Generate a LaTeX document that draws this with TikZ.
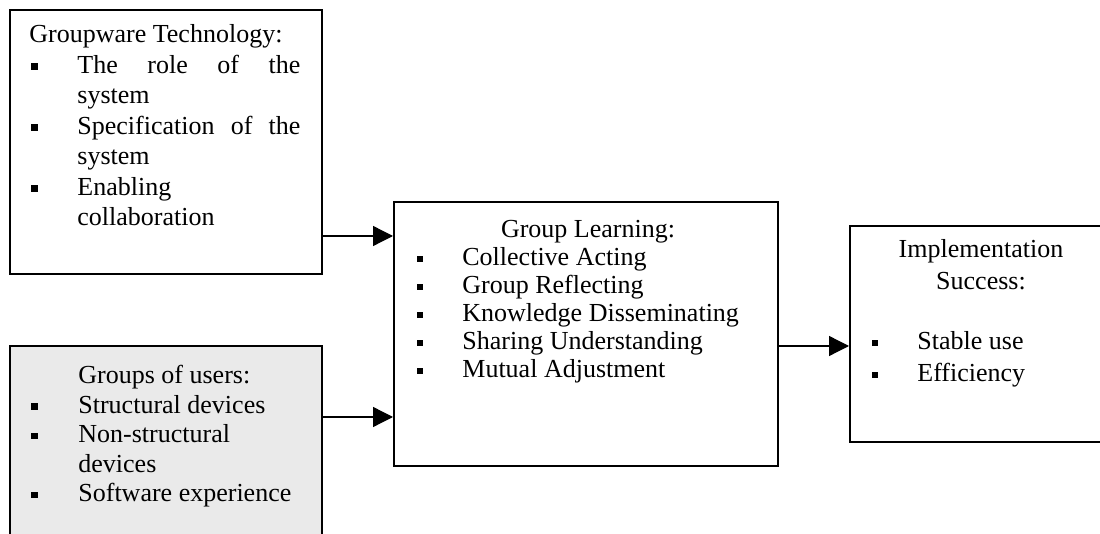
\documentclass[tikz,border=0pt]{standalone}
\usepackage{fontspec}
\setmainfont{Liberation Serif}
\usetikzlibrary{arrows.meta}
\definecolor{boxgray}{RGB}{234,234,234}
\begin{document}
\begin{tikzpicture}[x=0.5pt,y=-0.5pt,
  box/.style={draw, line width=0.85pt, rectangle, inner sep=0pt, anchor=north west},
  txt/.style={anchor=base west, inner sep=0pt, font=\fontsize{13pt}{15pt}\selectfont},
  ctxt/.style={txt, anchor=base},
  bul/.style={fill, rectangle, minimum size=3.3pt, inner sep=0pt},
  arr/.style={line width=0.65pt, -{Triangle[length=10pt,width=10pt]}}]
\useasboundingbox (0,0) rectangle (1100,534);
\fill[white] (0,0) rectangle (1100,534);
\clip (0,0) rectangle (1100,534);
% boxes
\node[box, minimum width=156pt, minimum height=132pt] (tech) at (9,9) {};
\node[box, fill=boxgray, minimum width=156pt, minimum height=130pt] (users) at (9,345) {};
\node[box, minimum width=192pt, minimum height=132pt] (learn) at (393,201) {};
\node[box, minimum width=133pt, minimum height=108pt] (succ) at (849,225) {};
% box 1 text
\node[txt] (t0) at (29,43) {Groupware Technology:};
\node[bul] (tb1) at (34.5,66.5) {};
\node[txt] (t1) at (77,73.5) {\makebox[111.5pt][s]{The role of the}};
\node[txt] (t2) at (77,104) {system};
\node[bul] (tb2) at (34.5,127.5) {};
\node[txt] (t3) at (77,134.5) {\makebox[111.5pt][s]{Specification of the}};
\node[txt] (t4) at (77,165) {system};
\node[bul] (tb3) at (34.5,188.5) {};
\node[txt] (t5) at (77,195.5) {Enabling};
\node[txt] (t6) at (77,226) {collaboration};
% box 2 text
\node[txt] (u0) at (78,384) {Groups of users:};
\node[bul] (ub1) at (34.5,406.5) {};
\node[txt] (u1) at (78,413.5) {Structural devices};
\node[bul] (ub2) at (34.5,436) {};
\node[txt] (u2) at (78,443) {Non-structural};
\node[txt] (u3) at (78,472.5) {devices};
\node[bul] (ub3) at (34.5,495) {};
\node[txt] (u4) at (78,502) {Software experience};
% box 3 text
\node[ctxt] (l0) at (588,238) {Group Learning:};
\node[bul] (lb1) at (420,259) {};
\node[txt] (l1) at (462,266) {Collective Acting};
\node[bul] (lb2) at (420,287) {};
\node[txt] (l2) at (462,294) {Group Reflecting};
\node[bul] (lb3) at (420,315) {};
\node[txt] (l3) at (462,322) {Knowledge Disseminating};
\node[bul] (lb4) at (420,343) {};
\node[txt] (l4) at (462,350) {Sharing Understanding};
\node[bul] (lb5) at (420,371) {};
\node[txt] (l5) at (462,378) {Mutual Adjustment};
% box 4 text
\node[ctxt] (s0) at (981,258) {Implementation};
\node[ctxt] (s1) at (981,290) {Success:};
\node[bul] (sb1) at (875,343) {};
\node[txt] (s2) at (917,350) {Stable use};
\node[bul] (sb2) at (875,375) {};
\node[txt] (s3) at (917,382) {Efficiency};
% connectors
\draw[arr] (tech.east |- 0,236) -- (learn.west |- 0,236);
\draw[arr] (users.east |- 0,417) -- (learn.west |- 0,417);
\draw[arr] (learn.east |- 0,346) -- (succ.west |- 0,346);
\end{tikzpicture}
\end{document}
